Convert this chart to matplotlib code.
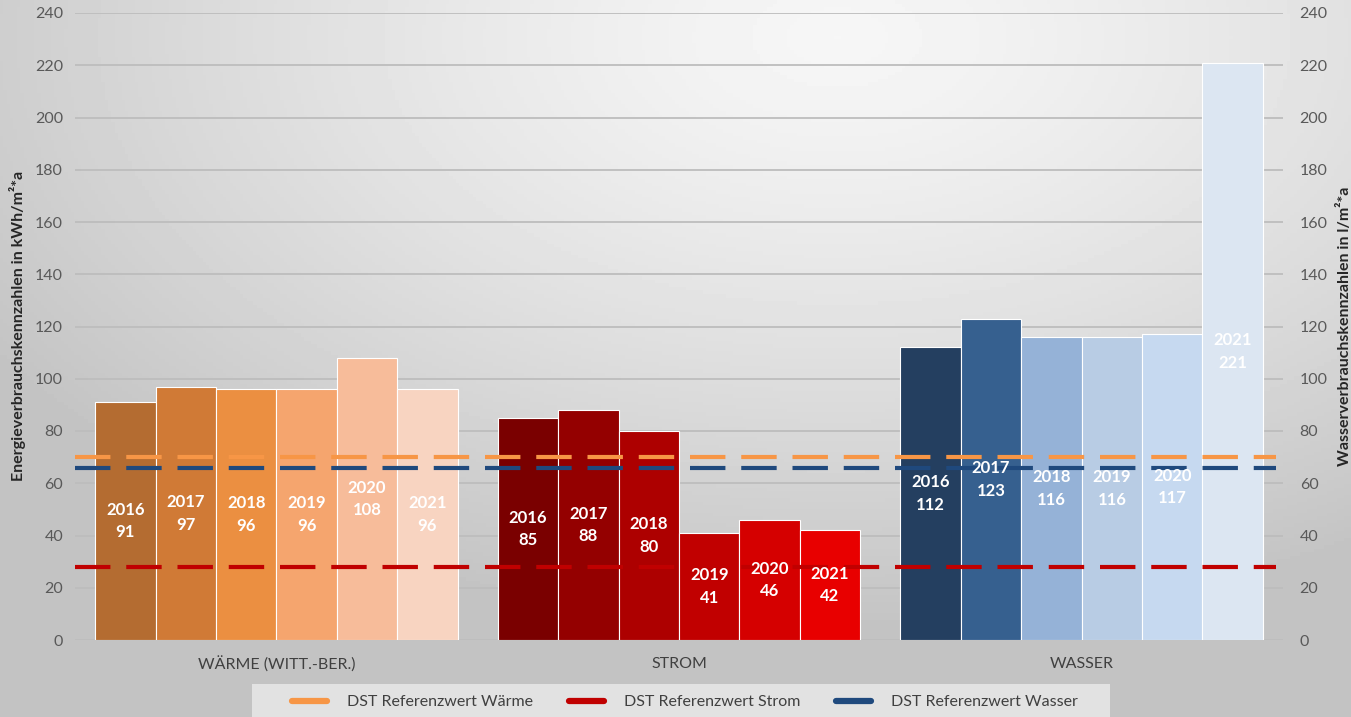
import numpy as np
import matplotlib.pyplot as plt
from matplotlib.lines import Line2D
from matplotlib.patches import Rectangle

plt.rcParams['font.family'] = ['Lato', 'DejaVu Sans']

# data
categories = ["WÄRME (WITT.-BER.)", "STROM", "WASSER"]
years = ["2016", "2017", "2018", "2019", "2020", "2021"]
waerme = [91, 97, 96, 96, 108, 96]
strom = [85, 88, 80, 41, 46, 42]
wasser = [112, 123, 116, 116, 117, 221]
ref_names = ["DST Referenzwert Wärme", "DST Referenzwert Strom", "DST Referenzwert Wasser"]
ref_values = [70, 28, 66]

waerme_colors = ["#B46C31", "#D07A36", "#EB8F41", "#F5A56E", "#F7BC9A", "#F8D4C1"]
strom_colors = ["#7A0000", "#940000", "#AD0000", "#C10000", "#D50000", "#E80000"]
wasser_colors = ["#243F60", "#36608F", "#95B2D7", "#B8CCE4", "#C6D9F0", "#DCE6F2"]
ref_colors = ["#F79646", "#C00000", "#1F497D"]

W, H = 1351, 717
fig = plt.figure(figsize=(W / 100, H / 100), dpi=100)

# gradient background
bg = fig.add_axes([0, 0, 1, 1], zorder=-10)
gx, gy = np.meshgrid(np.linspace(0, 1, 400), np.linspace(0, 1, 200))
d = np.sqrt((gx - 0.62) ** 2 + ((gy - 0.95) * 0.9) ** 2)
shade = 0.965 - 0.2 * np.clip(d / 0.75, 0, 1) ** 1.3
bg.imshow(shade, cmap='gray', vmin=0, vmax=1, extent=[0, 1, 0, 1], aspect='auto', origin='lower')
bg.axis('off')

ax = fig.add_axes([75 / W, 1 - 640 / H, 1208 / W, 627 / H])
ax.patch.set_alpha(0)

n = len(years)
width = 0.9 / n
groups = [waerme, strom, wasser]
colors = [waerme_colors, strom_colors, wasser_colors]
for g, (vals, cols) in enumerate(zip(groups, colors)):
    for i, (v, c) in enumerate(zip(vals, cols)):
        x = g - 0.45 + width * (i + 0.5)
        ax.bar(x, v, width=width, color=c, edgecolor='white', linewidth=0.8, zorder=2)
        ax.text(x, v / 2, f"{years[i]}\n{v}", ha='center', va='center', color='white',
                fontsize=12, fontweight='bold', linespacing=1.5, zorder=5)

for v, c in zip(ref_values, ref_colors):
    ax.axhline(v, xmin=0.0, xmax=0.994, color=c, lw=3, dashes=(8.5, 3.8), zorder=4)

ax.set_xlim(-0.5, 2.5)
ax.set_ylim(0, 240)
ax.set_yticks(range(0, 241, 20))
ax.set_xticks(range(3))
ax.set_xticklabels(categories)
ax.grid(axis='y', color='#BDBDBD', lw=1.3, zorder=0)
ax.set_axisbelow(True)
for s in ax.spines.values():
    s.set_visible(False)
ax.tick_params(length=0, labelsize=11.5, labelcolor='#595959', pad=8.6)
ax.tick_params(axis='x', pad=12, labelcolor='#404040')

ax2 = ax.twinx()
ax2.set_ylim(0, 240)
ax2.set_yticks(range(0, 241, 20))
for s in ax2.spines.values():
    s.set_visible(False)
ax2.tick_params(length=0, labelsize=11.5, labelcolor='#595959', pad=12)

fig.text(18 / W, 1 - 326 / H, "Energieverbrauchskennzahlen in kWh/m²*a", rotation=90,
         ha='center', va='center', fontsize=11.5, fontweight='bold', color='#262626')
fig.text(1345 / W, 1 - 326 / H, "Wasserverbrauchskennzahlen in l/m²*a", rotation=90,
         ha='center', va='center', fontsize=11.5, fontweight='bold', color='#262626')

# legend box
fig.patches.append(Rectangle((252 / W, 0), (1110 - 252) / W, 33 / H, transform=fig.transFigure,
                             facecolor='#E2E2E2', edgecolor='none', zorder=1))
handles = [Line2D([0], [0], color=c, lw=4.5, solid_capstyle='round') for c in ref_colors]
leg = fig.legend(handles, ref_names, loc='center', bbox_to_anchor=(685 / W, 1 - 702 / H), ncol=3,
                 fontsize=11.5, frameon=False, handlelength=2.2, columnspacing=2.25,
                 handletextpad=1.25)
for t in leg.get_texts():
    t.set_color('#404040')

fig.savefig("out.png", dpi=100)
